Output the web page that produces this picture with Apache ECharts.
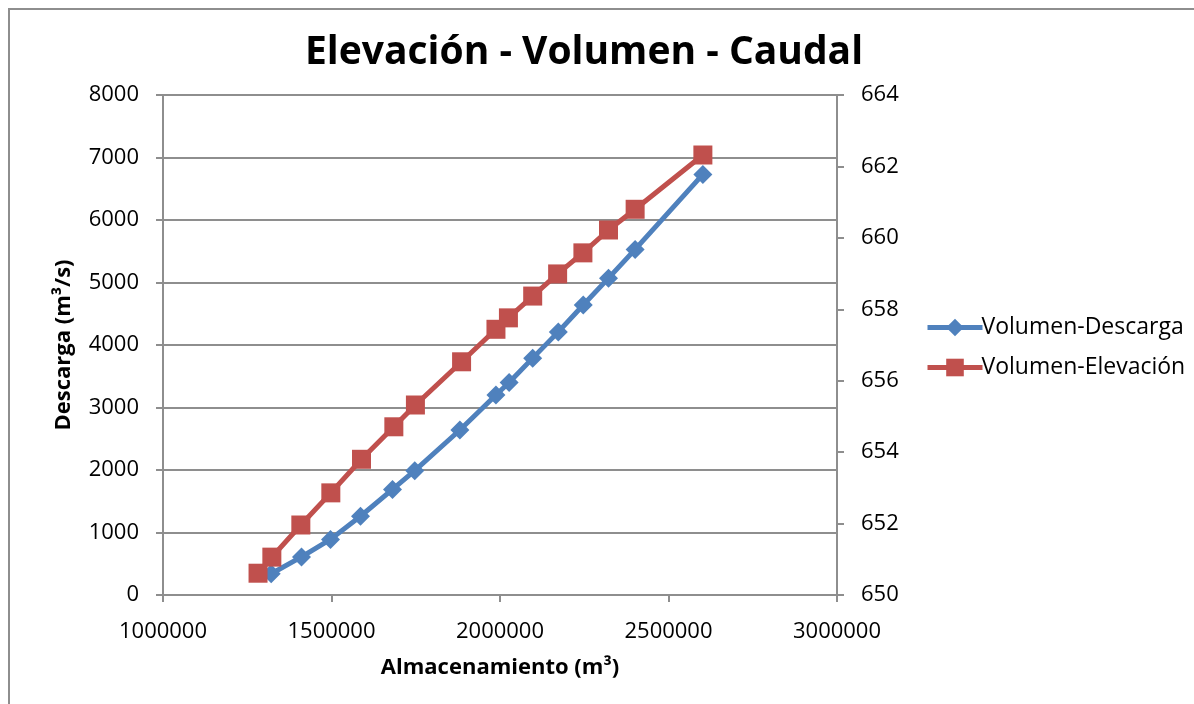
<!DOCTYPE html>
<html>
<head>
<meta charset="utf-8">
<title>Elevación - Volumen - Caudal</title>
<script src="https://cdn.jsdelivr.net/npm/echarts@6/dist/echarts.min.js"></script>
<style>
    html, body { margin: 0; padding: 0; background: #fff; }
    .box {
        position: relative;
        width: 1194px;
        height: 704px;
        overflow: hidden;
    }
    .frame {
        position: absolute;
        left: 8px;
        top: 8px;
        width: 1300px;
        height: 800px;
        border-top: 2px solid #8e8e8e;
        border-left: 2px solid #8e8e8e;
    }
    .charts {
        position: absolute;
        left: 0;
        top: 0;
        width: 1194px;
        height: 704px;
    }
</style>
</head>
<body>
<div class="box">
    <div class="frame"></div>
    <!-- contenedor del gráfico -->
    <div class="charts" id="charts"></div>
</div>
<script>
// Volumen-Descarga (eje izquierdo)
const storageQ = [1321000, 1411000, 1497000, 1586000, 1681000, 1747000, 1881000, 1988000, 2027000, 2097000, 2173000, 2247000, 2322000, 2401000, 2602000];
const discharge = [340, 610, 890, 1260, 1690, 1990, 2640, 3200, 3400, 3790, 4210, 4640, 5070, 5530, 6730];
// Volumen-Elevación (eje derecho)
const storageH = [1282000, 1323000, 1409000, 1498000, 1589000, 1685000, 1749000, 1886000, 1988000, 2025000, 2097000, 2171000, 2246000, 2322000, 2401000, 2602000];
const elevation = [650.61, 651.06, 651.96, 652.86, 653.80, 654.71, 655.32, 656.53, 657.44, 657.76, 658.37, 658.99, 659.58, 660.22, 660.80, 662.32];

const seriesNames = ['Volumen-Descarga', 'Volumen-Elevación'];
const font = 'Open Sans';
const plain = v => String(v);

let mychart = echarts.init(document.getElementById('charts'));
let option = {
    animation: false,
    title: {
        text: 'Elevación - Volumen - Caudal',
        left: 300,
        top: 28,
        textStyle: {
            fontFamily: 'Open Sans',
            fontWeight: 'bold',
            fontSize: 39,
            color: '#000'
        }
    },
    legend: {
        orient: 'vertical',
        left: 920,
        top: 311,
        itemWidth: 55,
        itemHeight: 22,
        itemGap: 17,
        lineStyle: { width: 5 },
        textStyle: { fontFamily: font, fontSize: 23, color: '#000', padding: [0, 0, 0, -6] },
        data: seriesNames
    },
    grid: {
        left: 163,
        right: 357,
        top: 95,
        bottom: 109
    },
    xAxis: {
        type: 'value',
        min: 1000000,
        max: 3000000,
        interval: 500000,
        name: 'Almacenamiento (m³)',
        nameLocation: 'middle',
        nameGap: 62,
        nameTextStyle: { fontFamily: font, fontWeight: 'bold', fontSize: 22, color: '#000' },
        axisLine: { lineStyle: { color: '#8e8e8e', width: 2 } },
        axisTick: { length: 7, lineStyle: { color: '#8e8e8e', width: 2 } },
        axisLabel: { margin: 26, fontFamily: font, fontSize: 22, color: '#000', formatter: plain },
        splitLine: { show: false }
    },
    yAxis: [
        {
            type: 'value',
            min: 0,
            max: 8000,
            interval: 1000,
            name: 'Descarga (m³/s)',
            nameLocation: 'middle',
            nameGap: 88,
            nameTextStyle: { fontFamily: font, fontWeight: 'bold', fontSize: 22, color: '#000' },
            axisLine: { show: true, lineStyle: { color: '#8e8e8e', width: 2 } },
            axisTick: { show: true, length: 7, lineStyle: { color: '#8e8e8e', width: 2 } },
            axisLabel: { margin: 24, fontFamily: font, fontSize: 22, color: '#000', formatter: plain },
            splitLine: { lineStyle: { color: '#8e8e8e', width: 2 } }
        },
        {
            type: 'value',
            min: 650,
            max: 664,
            interval: 2,
            position: 'right',
            axisLine: { show: true, lineStyle: { color: '#8e8e8e', width: 2 } },
            axisTick: { show: true, length: 7, lineStyle: { color: '#8e8e8e', width: 2 } },
            axisLabel: { margin: 24, fontFamily: font, fontSize: 22, color: '#000', formatter: plain },
            splitLine: { show: false }
        }
    ],
    series: [
        {
            name: seriesNames[0],
            type: 'line',
            yAxisIndex: 0,
            symbol: 'diamond',
            symbolSize: 19,
            z: 2,
            lineStyle: { color: '#4f81bd', width: 5 },
            itemStyle: { color: '#4f81bd', borderWidth: 0 },
            data: storageQ.map((v, i) => [v, discharge[i]])
        },
        {
            name: seriesNames[1],
            type: 'line',
            yAxisIndex: 1,
            symbol: 'rect',
            symbolSize: 19,
            z: 3,
            lineStyle: { color: '#c0504d', width: 5 },
            itemStyle: { color: '#c0504d', borderWidth: 0 },
            data: storageH.map((v, i) => [v, elevation[i]])
        }
    ]
};
mychart.setOption(option);
</script>
</body>
</html>
